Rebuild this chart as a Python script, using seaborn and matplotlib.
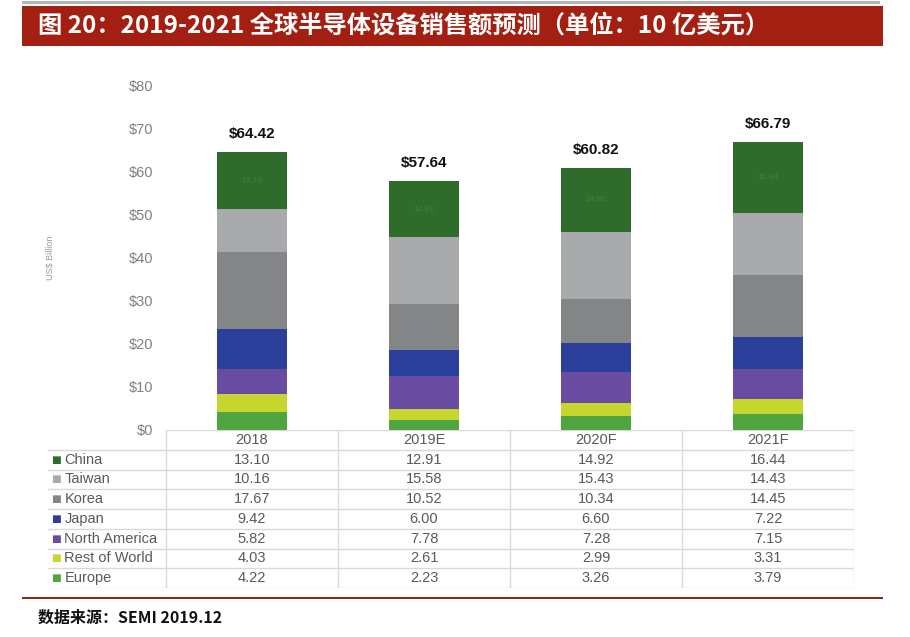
import numpy as np
import pandas as pd
import matplotlib.pyplot as plt
import seaborn as sns

# data (US$ billion)
years = ['2018', '2019E', '2020F', '2021F']
regions = ['China', 'Taiwan', 'Korea', 'Japan', 'North America', 'Rest of World', 'Europe']
china = [13.10, 12.91, 14.92, 16.44]
taiwan = [10.16, 15.58, 15.43, 14.43]
korea = [17.67, 10.52, 10.34, 14.45]
japan = [9.42, 6.00, 6.60, 7.22]
north_america = [5.82, 7.78, 7.28, 7.15]
rest_of_world = [4.03, 2.61, 2.99, 3.31]
europe = [4.22, 2.23, 3.26, 3.79]
totals = [64.42, 57.64, 60.82, 66.79]
yticks = [0, 10, 20, 30, 40, 50, 60, 70, 80]

colors = {
    'China': '#2f6b2b',
    'Taiwan': '#a7a9aa',
    'Korea': '#848587',
    'Japan': '#2b409b',
    'North America': '#6a4ba2',
    'Rest of World': '#c6d62f',
    'Europe': '#4fa640',
}

values = {'China': china, 'Taiwan': taiwan, 'Korea': korea, 'Japan': japan,
          'North America': north_america, 'Rest of World': rest_of_world, 'Europe': europe}

sns.set_theme(style='white')
plt.rcParams['font.family'] = ['Liberation Sans', 'DejaVu Sans']

W, H = 910, 637
fig = plt.figure(figsize=(W / 100, H / 100), dpi=100)


def fx(px):
    return px / W


def fy(py):
    return 1 - py / H


# main bar axes: x from 166 to 854 px, y from 85 ($80) to 430 ($0)
ax = fig.add_axes([fx(166), fy(430), fx(854) - fx(166), fy(85) - fy(430)])

# stacked bars: bottom-up order Europe -> China, drawn as overlaid cumulative sums
stack_order = regions[::-1]
cum = np.zeros(len(years))
cums = {}
for r in stack_order:
    cum = cum + np.array(values[r])
    cums[r] = cum.copy()

for r in regions:  # tallest cumulative (China on top) first
    df = pd.DataFrame({'year': years, 'value': cums[r]})
    sns.barplot(data=df, x='year', y='value', order=years, color=colors[r],
                saturation=1, width=0.41, ax=ax, linewidth=0)

# faint labels inside the China segment, totals above
for i, y in enumerate(years):
    ax.text(i, cums['China'][i] - china[i] / 2, f'{china[i]:.2f}', ha='center',
            va='center', fontsize=6, color='#44803f')
    ax.annotate(f'${totals[i]:.2f}', (i, cums['China'][i]), xytext=(0, 8),
                textcoords='offset points', ha='center', va='bottom',
                fontsize=11, fontweight='bold', color='#111111')

ax.set_xlim(-0.5, 3.5)
ax.set_ylim(0, 80)
ax.set_yticks(yticks)
ax.set_yticklabels([f'${t}' for t in yticks], color='#808080', fontsize=10.5)
ax.tick_params(axis='y', length=0, pad=9)
ax.set_xticks([])
ax.set_xlabel('')
ax.set_ylabel('')
sns.despine(ax=ax, left=True, bottom=True)
fig.text(fx(50), fy(258), 'US$ Billion', rotation=90, ha='center', va='center',
         fontsize=6.5, color='#9a9a9a')

# data table below the bars
tab = fig.add_axes([fx(48), fy(588), fx(854) - fx(48), fy(430) - fy(588)])
x_left = -0.5 - 118 / 172
tab.set_xlim(x_left, 3.5)
tab.set_ylim(8, 0)
tab.axis('off')
grid_c = '#d9d9d9'
tab.plot([-0.5, 3.5], [0, 0], color=grid_c, lw=1)
for k in range(1, 9):
    tab.plot([x_left, 3.5], [k, k], color=grid_c, lw=1)
for xv in [-0.5, 0.5, 1.5, 2.5, 3.5]:
    tab.plot([xv, xv], [0, 8], color=grid_c, lw=1)
txt_c = '#595959'
for i, y in enumerate(years):
    tab.text(i, 0.5, y, ha='center', va='center', fontsize=10.5, color=txt_c)
for j, r in enumerate(regions):
    tab.text(x_left + 0.02, j + 1.5, '■', ha='left', va='center', fontsize=7.5,
             color=colors[r], family=['DejaVu Sans'])
    tab.text(x_left + 0.095, j + 1.5, r, ha='left', va='center', fontsize=10.5,
             color=txt_c)
    for i in range(len(years)):
        tab.text(i, j + 1.5, f'{values[r][i]:.2f}', ha='center', va='center',
                 fontsize=10.5, color=txt_c)

# header bar, top rule and footer
fig.add_artist(plt.Rectangle((fx(22), fy(4)), fx(880) - fx(22), fy(1) - fy(4),
                             color='#b5b5b5', lw=0))
fig.add_artist(plt.Rectangle((fx(22), fy(46)), fx(883) - fx(22), fy(6) - fy(46),
                             color='#a31f12', lw=0))
fig.text(fx(38), fy(26), '图 20：2019-2021 全球半导体设备销售额预测（单位：10 亿美元）',
         ha='left', va='center', fontsize=17.5, fontweight='bold', color='white',
         family=['Noto Sans CJK SC', 'DejaVu Sans'])
fig.add_artist(plt.Rectangle((fx(22), fy(599)), fx(883) - fx(22), fy(597) - fy(599),
                             color='#8e2a1a', lw=0))
fig.text(fx(38), fy(618), '数据来源：SEMI 2019.12', ha='left', va='center',
         fontsize=11.5, fontweight='bold', color='#111111',
         family=['Noto Sans CJK SC', 'DejaVu Sans'])

fig.savefig('out.png', dpi=100)
